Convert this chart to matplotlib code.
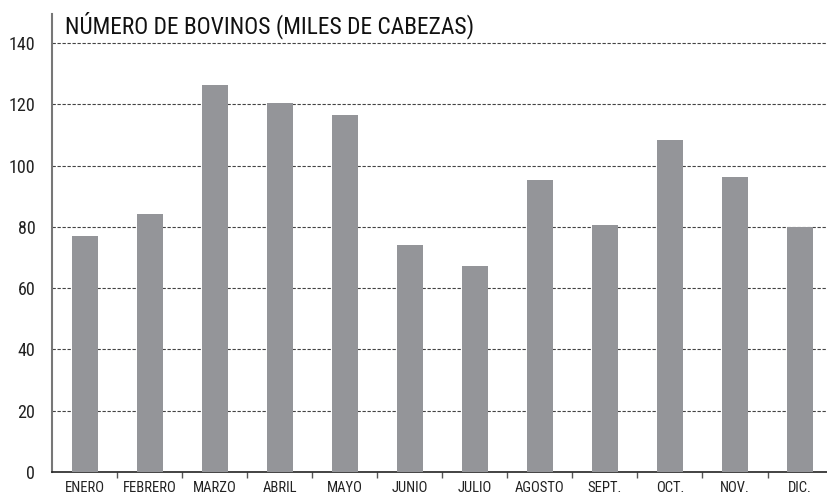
import matplotlib.pyplot as plt
from matplotlib.ticker import FixedLocator

meses = ["ENERO", "FEBRERO", "MARZO", "ABRIL", "MAYO", "JUNIO",
         "JULIO", "AGOSTO", "SEPT.", "OCT.", "NOV.", "DIC."]
bovinos = [77.0, 84.2, 126.3, 120.3, 116.5, 74.1,
           67.2, 95.3, 80.6, 108.3, 96.2, 79.9]
yticks = [0, 20, 40, 60, 80, 100, 120, 140]

plt.rcParams['font.family'] = ['Roboto Condensed', 'DejaVu Sans']

fig = plt.figure(figsize=(8.28, 4.96), dpi=100)
ax = fig.add_axes([0.0628, 0.0484, 0.9372, 0.9234])

x = list(range(len(meses)))
ax.bar(x, bovinos, width=0.4, color="#949599", zorder=3)

ax.set_xlim(-0.5, 11.43)
ax.set_ylim(0, 149.5)

# eje y: sin marcas, rejilla discontinua
ax.set_yticks(yticks)
ax.set_yticklabels([str(v) for v in yticks], fontsize=13)
ax.tick_params(axis="y", length=0, pad=12, colors="#222222")
for v in yticks[1:]:
    ax.axhline(v, color="#444444", lw=0.8, ls=(0, (3, 1.5)), zorder=2)

# eje x: etiquetas centradas, marcas entre meses
ax.set_xticks(x)
ax.set_xticklabels(meses, fontsize=10.5)
ax.tick_params(axis="x", which="major", length=0, pad=6.5, colors="#222222")
ax.xaxis.set_minor_locator(FixedLocator([i + 0.5 for i in range(11)]))
ax.tick_params(axis="x", which="minor", length=4, width=1, color="#555555", direction="out")

for s in ["top", "right"]:
    ax.spines[s].set_visible(False)
ax.spines["left"].set_color("#777777")
ax.spines["left"].set_linewidth(1.5)
ax.spines["bottom"].set_color("#222222")
ax.spines["bottom"].set_linewidth(1.2)

fig.text(0.0785, 1 - 33 / 496, "NÚMERO DE BOVINOS (MILES DE CABEZAS)",
         fontsize=16.8, va="baseline", ha="left", color="#111111")

fig.savefig("out.png", dpi=100)
